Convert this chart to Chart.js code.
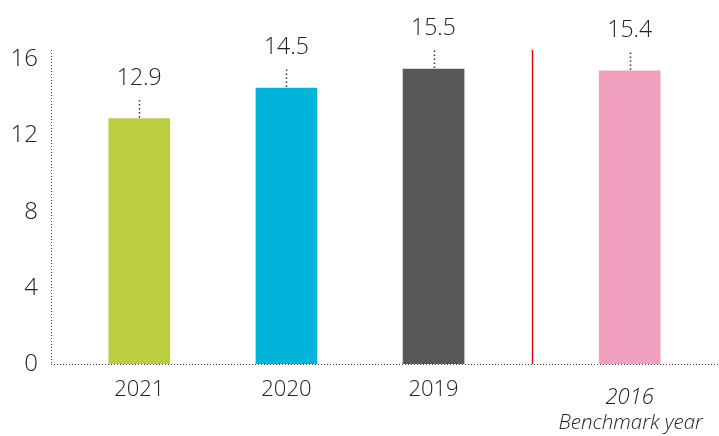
<!DOCTYPE html>
<html>
<head>
<meta charset="utf-8">
<script src="https://cdn.jsdelivr.net/npm/chart.js@4/dist/chart.umd.min.js"></script>
<style>
  html, body { margin: 0; padding: 0; background: #fff; }
  #wrap { width: 719px; height: 436px; position: relative; }
</style>
</head>
<body>
<div id="wrap"><canvas id="c" width="719" height="436"></canvas></div>
<script>
// ---- data ----
const categories = ['2021', '2020', '2019', '2016'];
const values = [12.9, 14.5, 15.5, 15.4];
const barColors = ['#bccd3f', '#00b5d9', '#575756', '#f2a0c0'];
const benchmarkNote = 'Benchmark year';
const yTicks = [0, 4, 8, 12, 16];

// category slots: three consecutive years, then a gap before the benchmark year
const slotStep = 3;
const benchmarkGap = 1;
const positions = categories.map((c, i) => i * slotStep + (i === categories.length - 1 ? benchmarkGap : 0));
const dividerPos = (positions[positions.length - 2] + positions[positions.length - 1]) / 2;

const FONT = "'Open Sans', 'DejaVu Sans', sans-serif";
const TEXT = '#222222';

const annotate = {
  id: 'annotate',
  beforeDatasetsDraw(chart) {
    const ctx = chart.ctx;
    const area = chart.chartArea;
    ctx.save();
    ctx.strokeStyle = '#444';
    ctx.lineWidth = 1;
    ctx.setLineDash([1, 2]);
    ctx.beginPath();
    ctx.moveTo(area.left + 0.5, area.top);
    ctx.lineTo(area.left + 0.5, area.bottom);
    ctx.moveTo(area.left, area.bottom + 0.5);
    ctx.lineTo(chart.width, area.bottom + 0.5);
    ctx.stroke();
    ctx.restore();
  },
  afterDatasetsDraw(chart) {
    const ctx = chart.ctx;
    const xs = chart.scales.x;
    const area = chart.chartArea;
    ctx.save();
    // divider
    const dx = Math.round(xs.getPixelForValue(dividerPos)) + 0.5;
    ctx.strokeStyle = '#e30613';
    ctx.lineWidth = 1.5;
    ctx.beginPath();
    ctx.moveTo(dx, area.top);
    ctx.lineTo(dx, area.bottom);
    ctx.stroke();
    // value labels with dotted leaders
    const meta = chart.getDatasetMeta(0);
    meta.data.forEach((el, i) => {
      const x = Math.round(el.x) + 0.5;
      const top = el.y;
      ctx.strokeStyle = '#333';
      ctx.lineWidth = 1.5;
      ctx.setLineDash([1.5, 2.5]);
      ctx.beginPath();
      ctx.moveTo(x, top - 1);
      ctx.lineTo(x, top - 21);
      ctx.stroke();
      ctx.setLineDash([]);
      ctx.fillStyle = TEXT;
      ctx.font = '300 23px ' + FONT;
      ctx.textAlign = 'center';
      ctx.textBaseline = 'alphabetic';
      ctx.fillText(values[i].toFixed(1), el.x, top - 34);
    });
    // benchmark note under the last tick label
    const bx = xs.getPixelForValue(positions[positions.length - 1]);
    ctx.font = 'italic 300 20.5px ' + FONT;
    ctx.fillStyle = TEXT;
    ctx.textAlign = 'center';
    ctx.textBaseline = 'middle';
    ctx.fillText(benchmarkNote, bx + 1, 423);
    ctx.restore();
  }
};

new Chart(document.getElementById('c'), {
  type: 'bar',
  data: {
    datasets: [{
      data: positions.map((p, i) => ({ x: p, y: values[i] })),
      backgroundColor: barColors,
      barThickness: 61,
      borderWidth: 0
    }]
  },
  options: {
    responsive: false,
    animation: false,
    events: [],
    layout: { padding: { left: 0, right: 1, top: 50, bottom: 0 } },
    plugins: { legend: { display: false }, tooltip: { enabled: false } },
    scales: {
      x: {
        type: 'linear',
        offset: false,
        min: positions[0] - 1.8,
        max: positions[positions.length - 1] + 1.8,
        grid: { display: false, drawTicks: false },
        border: { display: false },
        afterBuildTicks: (s) => { s.ticks = positions.map(v => ({ value: v })); },
        afterFit: (s) => { s.height = 72; },
        ticks: {
          padding: 21,
          color: TEXT,
          autoSkip: false,
          maxRotation: 0,
          callback: (v) => { const i = positions.indexOf(v); return i >= 0 ? categories[i] : ''; },
          font: (ctx) => {
            const last = ctx.index === positions.length - 1;
            return { family: FONT, size: 22, weight: '300', style: last ? 'italic' : 'normal', lineHeight: last ? '26px' : '10px' };
          }
        }
      },
      y: {
        min: 0,
        max: 16.5,
        grid: { display: false, drawTicks: false },
        border: { display: false },
        afterBuildTicks: (s) => { s.ticks = yTicks.map(v => ({ value: v })); },
        afterFit: (s) => { s.width = 51; },
        ticks: {
          padding: 13,
          color: TEXT,
          font: { family: FONT, size: 24, weight: '300' }
        }
      }
    }
  },
  plugins: [annotate]
});
</script>
</body>
</html>
